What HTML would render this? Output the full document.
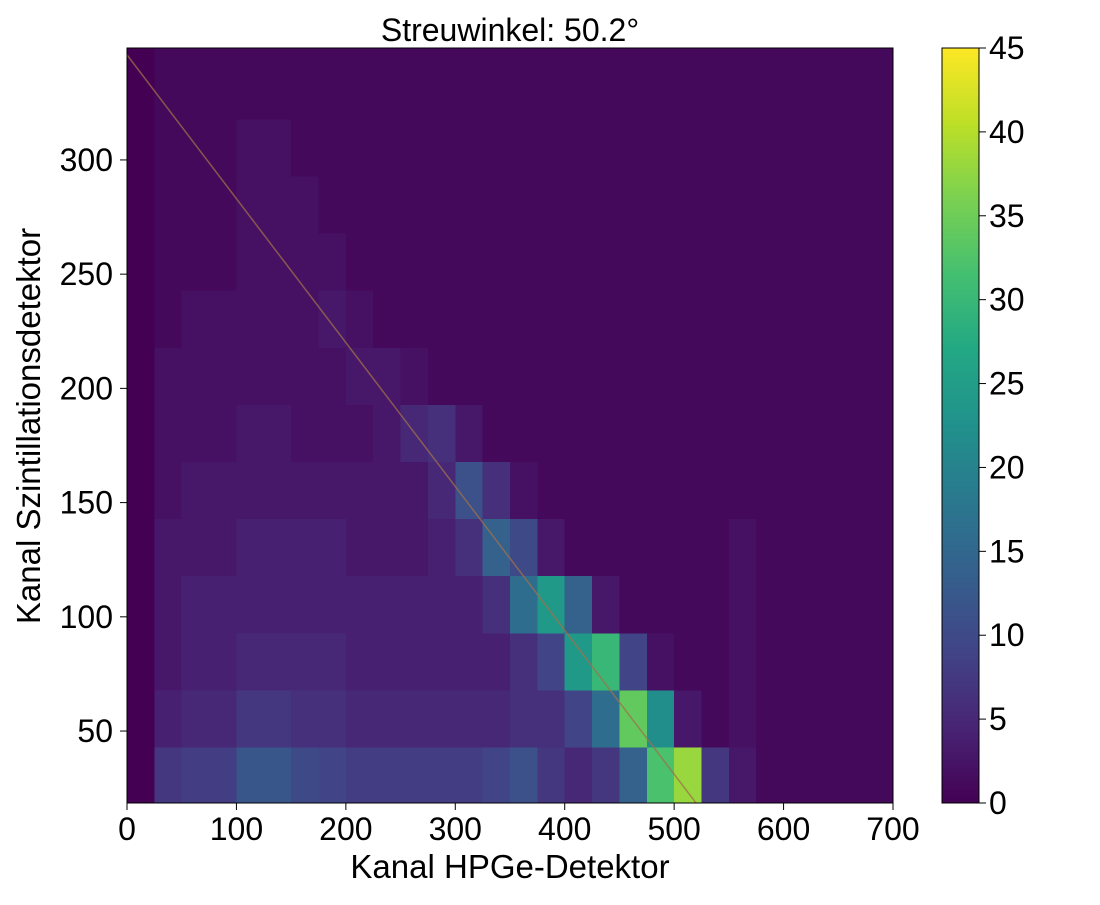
<!DOCTYPE html>
<html><head><meta charset="utf-8"><style>
body{margin:0;background:#fff;}
svg text{font-family:"Liberation Sans",sans-serif;fill:#000;}
</style></head><body>
<svg id="c" width="1100" height="900" xmlns="http://www.w3.org/2000/svg">
<defs><clipPath id="pc"><rect x="127" y="48" width="766" height="755"/></clipPath>
<linearGradient id="cbg" x1="0" y1="1" x2="0" y2="0">
<stop offset="0" stop-color="#440154"/><stop offset="0.1" stop-color="#482475"/><stop offset="0.2" stop-color="#414487"/><stop offset="0.3" stop-color="#355f8d"/><stop offset="0.4" stop-color="#2a788e"/><stop offset="0.5" stop-color="#21918c"/><stop offset="0.6" stop-color="#22a884"/><stop offset="0.7" stop-color="#44bf70"/><stop offset="0.8" stop-color="#7ad151"/><stop offset="0.9" stop-color="#bddf26"/><stop offset="1" stop-color="#fde725"/></linearGradient></defs>
<g id="heat" clip-path="url(#pc)"></g>
<line id="fitline" stroke="#a0704a" stroke-opacity="0.75" stroke-width="1.5" clip-path="url(#pc)"/>
<rect x="127" y="48" width="766" height="755" fill="none" stroke="#000" stroke-width="1"/>
<g id="axes"></g>
<text x="510" y="41" font-size="32" text-anchor="middle">Streuwinkel: 50.2°</text>
<text x="510" y="878" font-size="33" text-anchor="middle">Kanal HPGe-Detektor</text>
<text transform="translate(40,426) rotate(-90)" font-size="33" text-anchor="middle">Kanal Szintillationsdetektor</text>
<rect x="942" y="48" width="37" height="755" fill="url(#cbg)" stroke="#000" stroke-width="1"/>
</svg>
<script>
const xBinWidth = 25;
const yBinStart = 18;
const yBinHeight = 25;
// rows from bottom (y 18-43) to top
const counts = [
[0,7,8,8,12,12,10,9,8,8,8,8,8,9,11,7,5,7,14,32,38,7,3,1,1,1,1,1],
[0,4,5,5,7,7,6,6,5,5,5,5,5,5,6,6,9,16,34,22,3,1,2,1,1,1,1,1],
[0,3,4,4,5,5,5,5,4,4,4,4,4,4,6,9,24,30,9,2,1,1,2,1,1,1,1,1],
[0,3,4,4,4,4,4,4,4,4,4,4,4,6,16,24,14,3,1,1,1,1,2,1,1,1,1,1],
[0,3,3,3,4,4,4,4,3,3,3,4,6,14,10,3,1,1,1,1,1,1,2,1,1,1,1,1],
[0,2,3,3,3,3,3,3,3,3,3,5,11,6,2,1,1,1,1,1,1,1,1,1,1,1,1,1],
[0,2,2,2,3,3,2,2,2,3,5,6,3,1,1,1,1,1,1,1,1,1,1,1,1,1,1,1],
[0,2,2,2,2,2,2,2,3,3,2,1,1,1,1,1,1,1,1,1,1,1,1,1,1,1,1,1],
[0,1,2,2,2,2,2,3,2,1,1,1,1,1,1,1,1,1,1,1,1,1,1,1,1,1,1,1],
[0,1,1,1,2,2,2,2,1,1,1,1,1,1,1,1,1,1,1,1,1,1,1,1,1,1,1,1],
[0,1,1,1,2,2,2,1,1,1,1,1,1,1,1,1,1,1,1,1,1,1,1,1,1,1,1,1],
[0,1,1,1,2,2,1,1,1,1,1,1,1,1,1,1,1,1,1,1,1,1,1,1,1,1,1,1],
[0,1,1,1,1,1,1,1,1,1,1,1,1,1,1,1,1,1,1,1,1,1,1,1,1,1,1,1],
[0,1,1,1,1,1,1,1,1,1,1,1,1,1,1,1,1,1,1,1,1,1,1,1,1,1,1,1]];
const xTicks = [0,100,200,300,400,500,600,700];
const yTicks = [50,100,150,200,250,300];
const cbTicks = [0,5,10,15,20,25,30,35,40,45];
const fitStart = [0,346];
const fitEnd = [520,18.5];

const X0=127,X1=893,Y0=803,Y1=48, xMin=0,xMax=700,yMin=18.5,yMax=349, cMax=45;
const xs=v=>X0+(v-xMin)/(xMax-xMin)*(X1-X0);
const ys=v=>Y0-(v-yMin)/(yMax-yMin)*(Y0-Y1);
const cs=v=>803-v/cMax*755;
const stops=[[68,1,84],[72,36,117],[65,68,135],[53,95,141],[42,120,142],[33,145,140],[34,168,132],[68,191,112],[122,209,81],[189,223,38],[253,231,37]];
function viridis(t){t=Math.max(0,Math.min(1,t))*10;const i=Math.min(9,Math.floor(t)),f=t-i;const a=stops[i],b=stops[i+1];
return `rgb(${a.map((v,k)=>Math.round(v+(b[k]-v)*f)).join(',')})`;}
const NS="http://www.w3.org/2000/svg";
const heat=document.getElementById('heat');
counts.forEach((row,r)=>row.forEach((v,c)=>{
 const el=document.createElementNS(NS,'rect');
 const x0=xs(c*xBinWidth),x1=xs((c+1)*xBinWidth),yb=ys(yBinStart+r*yBinHeight),yt=ys(yBinStart+(r+1)*yBinHeight);
 el.setAttribute('x',x0);el.setAttribute('y',yt);el.setAttribute('width',x1-x0+0.5);el.setAttribute('height',yb-yt+0.5);
 el.setAttribute('fill',viridis(v/cMax));el.setAttribute('shape-rendering','crispEdges');
 
 
 heat.appendChild(el);}));
const fl=document.getElementById('fitline');
fl.setAttribute('x1',xs(fitStart[0]));fl.setAttribute('y1',ys(fitStart[1]));fl.setAttribute('x2',xs(fitEnd[0]));fl.setAttribute('y2',ys(fitEnd[1]));
const ax=document.getElementById('axes');
function add(tag,attrs,txt,name){const e=document.createElementNS(NS,tag);for(const k in attrs)e.setAttribute(k,attrs[k]);if(txt!==undefined)e.textContent=txt;
 
 
 ax.appendChild(e);}
xTicks.forEach(t=>{const x=xs(t);add('line',{x1:x,x2:x,y1:803,y2:810,stroke:'#000'},undefined,'x-tick');
 add('text',{x:x,y:840,'font-size':32,'text-anchor':'middle'},t,'x-tick-label');});
yTicks.forEach(t=>{const y=ys(t);add('line',{x1:120,x2:127,y1:y,y2:y,stroke:'#000'},undefined,'y-tick');
 add('text',{x:113,y:y+11,'font-size':32,'text-anchor':'end'},t,'y-tick-label');});
cbTicks.forEach(t=>{const y=cs(t);add('line',{x1:979,x2:986,y1:y,y2:y,stroke:'#000'},undefined,'colorbar-tick');
 add('text',{x:989,y:y+11,'font-size':32},t,'colorbar-tick-label');});
</script>
</body></html>
